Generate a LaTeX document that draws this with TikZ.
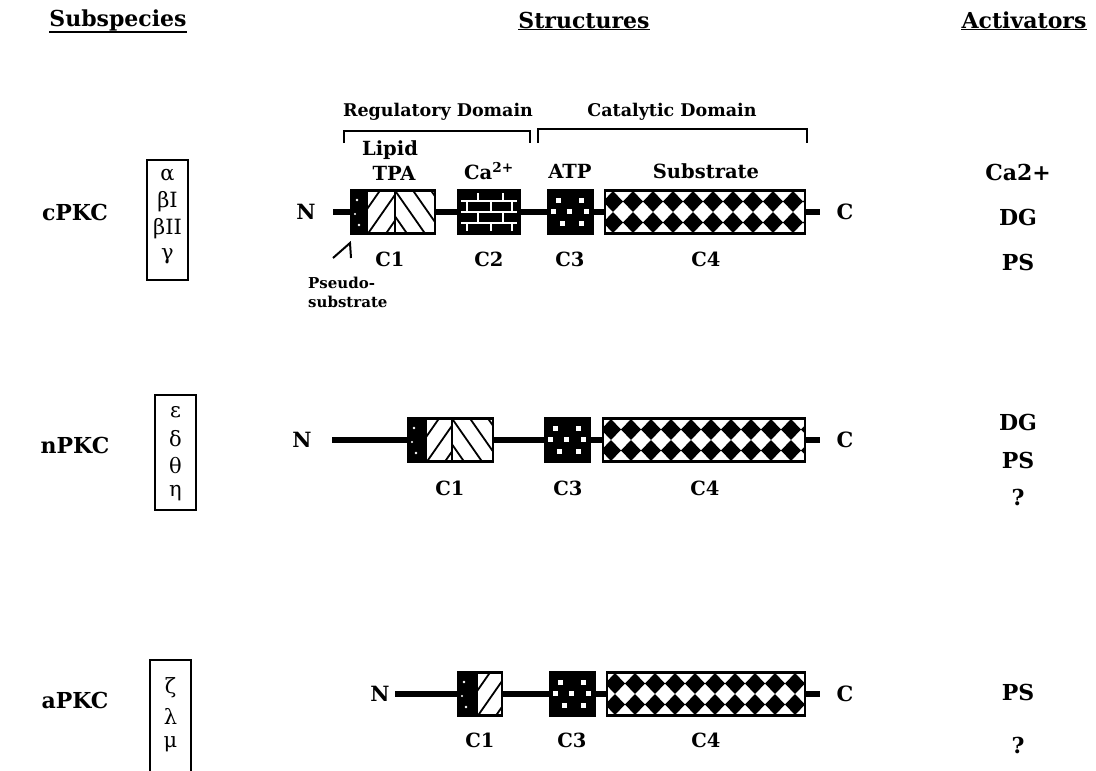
\documentclass[tikz,border=0pt]{standalone}
\usepackage{fontspec}
\setmainfont{DejaVu Serif}
\newcommand\pkcCone[5]{% x1, dark end, split, x2, yc
  \fill[white] (#1,#5-21.5) rectangle (#4,#5+21.5);
  \fill[black] (#1,#5-21.5) rectangle (#2,#5+21.5);
  \fill[white] (#1+6,#5-12) circle (1.4);
  \fill[white] (#1+4,#5+2) circle (1.2);
  \fill[white] (#1+8,#5+13) circle (1.3);
  \begin{scope}
    \clip (#2,#5-21.5) rectangle (#3,#5+21.5);
    \foreach \k in {-2,...,2} \draw[line width=1.8pt] ({#2+\k*18},#5+21.5) -- ++(30,-43);
  \end{scope}
  \begin{scope}
    \clip (#3,#5-21.5) rectangle (#4,#5+21.5);
    \foreach \k in {-2,...,3} \draw[line width=1.8pt] ({#3+\k*18},#5-21.5) -- ++(30,43);
  \end{scope}
  \draw[line width=1.8pt] (#3,#5-21.5) -- (#3,#5+21.5);
  \draw[domframe] (#1,#5-21.5) rectangle (#4,#5+21.5);
}
\newcommand\pkcCtwo[3]{% x1, x2, yc
  \fill[black] (#1,#3-21.5) rectangle (#2,#3+21.5);
  \begin{scope}[white,line width=1.4pt]
    \foreach \dy in {-11,0,11} \draw (#1+3,#3+\dy) -- (#2-3,#3+\dy);
    \foreach \dx in {20,45} {\draw (#1+\dx,#3-19) -- (#1+\dx,#3-11); \draw (#1+\dx,#3) -- (#1+\dx,#3+11);}
    \foreach \dx in {9,33,54} {\draw (#1+\dx,#3-11) -- (#1+\dx,#3); \draw (#1+\dx,#3+11) -- (#1+\dx,#3+19);}
  \end{scope}
  \draw[domframe] (#1,#3-21.5) rectangle (#2,#3+21.5);
}
\newcommand\pkcCthree[2]{% x1, yc  (width 45)
  \fill[black] (#1,#2-21.5) rectangle (#1+45,#2+21.5);
  \foreach \px/\py in {10/-12,33/-12,5/-1,21/-1,38/-1,14/11,33/11}
    \fill[white] (#1+\px-2.5,#2+\py-2.5) rectangle ++(5,5);
  \draw[domframe] (#1,#2-21.5) rectangle (#1+45,#2+21.5);
}
\newcommand\pkcCfour[3]{% x1, x2, yc
  \fill[white] (#1,#3-21.5) rectangle (#2,#3+21.5);
  \begin{scope}
    \clip (#1,#3-21.5) rectangle (#2,#3+21.5);
    \foreach \k in {0,...,10} {
      \fill[black] ({#1+8+20*\k-10},#3-10.5) -- ++(10,-10.5) -- ++(10,10.5) -- ++(-10,10.5) -- cycle;
      \fill[black] ({#1+8+20*\k-10},#3+10.5) -- ++(10,-10.5) -- ++(10,10.5) -- ++(-10,10.5) -- cycle;
    }
  \end{scope}
  \draw[domframe] (#1,#3-21.5) rectangle (#2,#3+21.5);
}
\begin{document}
\begin{tikzpicture}[x=1pt,y=-1pt,
  txt/.style={font=\bfseries\fontsize{19.5}{21}\selectfont, inner sep=0pt},
  endtxt/.style={font=\bfseries\fontsize{21}{23}\selectfont, inner sep=0pt},
  btxt/.style={font=\bfseries\fontsize{22}{24}\selectfont, inner sep=0pt},
  domtxt/.style={font=\bfseries\fontsize{17.5}{19}\selectfont, inner sep=0pt},
  small/.style={font=\bfseries\fontsize{15}{17}\selectfont, inner sep=0pt, anchor=west},
  hdr/.style={font=\bfseries\fontsize{22}{24}\selectfont, inner sep=0pt},
  grk/.style={font=\fontsize{21}{23}\selectfont, inner sep=0pt},
  backbone/.style={line width=5.5pt},
  domframe/.style={line width=2.4pt},
  bracketline/.style={line width=1.8pt},
  gbox/.style={line width=1.5pt}]
\useasboundingbox (0,0) rectangle (1096,771);

% headers
\node[hdr] (hsub) at (118,20) {Subspecies};
\node[hdr] (hstr) at (584,20) {Structures};
\node[hdr] (hact) at (1024,20) {Activators};
\foreach \h in {hsub,hstr,hact}
  \draw[line width=1.5pt] ([yshift=-1pt]\h.south west) -- ([yshift=-1pt]\h.south east);

% row labels
\node[btxt] (cpkc) at (75,212) {cPKC};
\node[btxt] (npkc) at (75,445) {nPKC};
\node[btxt] (apkc) at (75,700) {aPKC};

% subspecies boxes
\draw[gbox] (147,160) rectangle (188,280);
\node[grk] (ga) at (167.5,175) {α};
\node[grk] (gb1) at (167.5,202) {βI};
\node[grk] (gb2) at (167.5,229) {βII};
\node[grk] (gg) at (167.5,256) {γ};
\draw[gbox] (155,395) rectangle (196,510);
\node[grk] (ge) at (175.5,412) {ε};
\node[grk] (gd) at (175.5,439) {δ};
\node[grk] (gt) at (175.5,466) {θ};
\node[grk] (gh) at (175.5,493) {η};
\draw[gbox] (150,771) -- (150,660) -- (191,660) -- (191,771);
\node[grk] (gz) at (170.5,688) {ζ};
\node[grk] (gl) at (170.5,716) {λ};
\node[grk] (gm) at (170.5,744) {μ};

% domain brackets
\node[domtxt] (reg) at (438,112) {Regulatory Domain};
\node[domtxt] (cat) at (672,112) {Catalytic Domain};
\draw[bracketline] (344,143) -- (344,131) -- (530,131) -- (530,143);
\draw[bracketline] (538,143) -- (538,129) -- (807,129) -- (807,143);

% ---------- row 1 ----------
\node[endtxt] (n1) at (306,212) {N};
\node[endtxt] (c1end) at (845,212) {C};
\coordinate (b1s) at (333,212);
\coordinate (b1e) at (820,212);
\draw[backbone] (b1s) -- (b1e);
\pkcCone{351}{368}{395}{435}{212}
\pkcCtwo{458}{520}{212}
\pkcCthree{548}{212}
\pkcCfour{605}{805}{212}
\node[txt] (lip) at (390,150) {Lipid};
\node[txt] (tpa) at (394,173) {TPA};
\node[txt] (ca) at (489,171) {Ca\textsuperscript{2+}};
\node[txt] (atp) at (570,171) {ATP};
\node[txt] (sub) at (706,171) {Substrate};
\node[txt] (r1c1) at (390,259) {C1};
\node[txt] (r1c2) at (489,259) {C2};
\node[txt] (r1c3) at (570,259) {C3};
\node[txt] (r1c4) at (706,259) {C4};
\draw[line width=2pt] (333,258) -- (350,243) -- (351,258);
\node[small] (ps1) at (308,283) {Pseudo-};
\node[small] (ps2) at (308,302) {substrate};

% ---------- row 2 ----------
\node[endtxt] (n2) at (302,440) {N};
\node[endtxt] (c2end) at (845,440) {C};
\coordinate (b2s) at (332,440);
\coordinate (b2e) at (820,440);
\draw[backbone] (b2s) -- (b2e);
\pkcCone{408}{427}{452}{493}{440}
\pkcCthree{545}{440}
\pkcCfour{603}{805}{440}
\node[txt] (r2c1) at (450,488) {C1};
\node[txt] (r2c3) at (568,488) {C3};
\node[txt] (r2c4) at (705,488) {C4};

% ---------- row 3 ----------
\node[endtxt] (n3) at (380,694) {N};
\node[endtxt] (c3end) at (845,694) {C};
\coordinate (b3s) at (395,694);
\coordinate (b3e) at (820,694);
\draw[backbone] (b3s) -- (b3e);
\pkcCone{458}{478}{502}{502}{694}
\pkcCthree{550}{694}
\pkcCfour{607}{805}{694}
\node[txt] (r3c1) at (480,740) {C1};
\node[txt] (r3c3) at (572,740) {C3};
\node[txt] (r3c4) at (706,740) {C4};

% activators
\node[btxt] (a1) at (1018,172) {Ca2+};
\node[btxt] (a2) at (1018,217) {DG};
\node[btxt] (a3) at (1018,262) {PS};
\node[btxt] (a4) at (1018,422) {DG};
\node[btxt] (a5) at (1018,460) {PS};
\node[btxt] (a6) at (1018,497) {?};
\node[btxt] (a7) at (1018,692) {PS};
\node[btxt] (a8) at (1018,745) {?};
\end{tikzpicture}
\end{document}
